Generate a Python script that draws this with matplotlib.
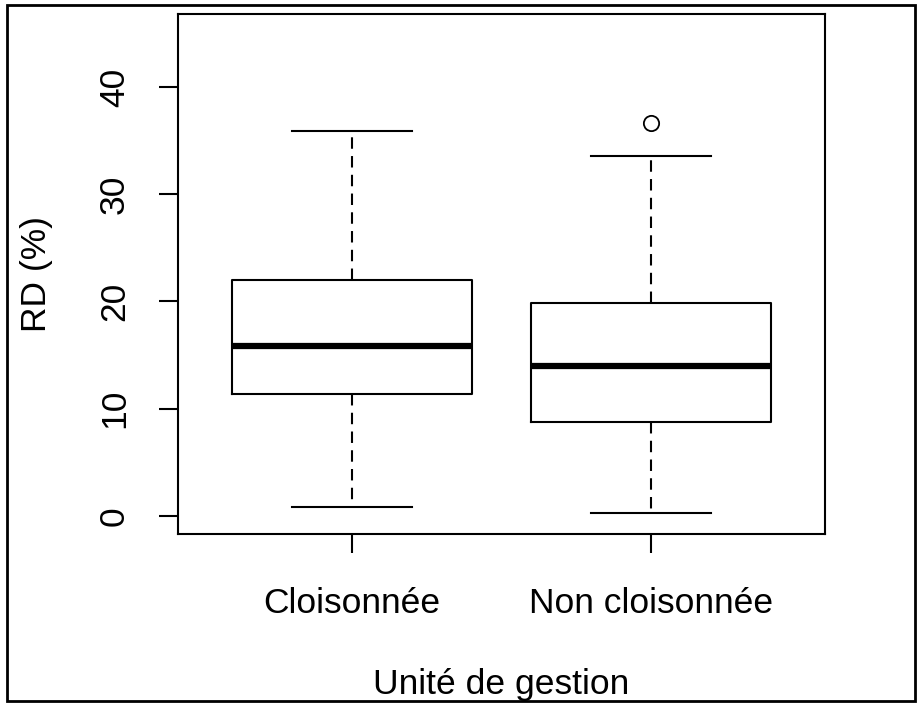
import matplotlib
matplotlib.use("Agg")
import matplotlib.pyplot as plt
from matplotlib.patches import Rectangle

plt.rcParams['font.family'] = ['Liberation Sans', 'DejaVu Sans']

# Summary statistics of RD (%) per management unit
categories = ["Cloisonnée", "Non cloisonnée"]
whisker_low = [0.8, 0.3]
q1 = [11.4, 8.7]
median = [15.8, 14.0]
q3 = [22.0, 19.8]
whisker_high = [35.9, 33.6]
outliers = [[], [36.6]]
y_ticks = [0, 10, 20, 30, 40]

stats = []
for i, name in enumerate(categories):
    stats.append(dict(label=name, whislo=whisker_low[i], q1=q1[i], med=median[i],
                      q3=q3[i], whishi=whisker_high[i], fliers=outliers[i]))

fig = plt.figure(figsize=(9.17, 7.05), dpi=100)
ax = fig.add_axes([178 / 917, 1 - 534 / 705, 647 / 917, 520 / 705])

lw = 1.5
ax.bxp(stats, positions=[1, 2], widths=0.8, showfliers=True,
       boxprops=dict(color='black', linewidth=lw),
       medianprops=dict(color='black', linewidth=4.5, solid_capstyle='butt'),
       whiskerprops=dict(color='black', linewidth=lw, linestyle=(0, (5.5, 3.5))),
       capprops=dict(color='black', linewidth=lw),
       capwidths=0.4,
       flierprops=dict(marker='o', markersize=11, markerfacecolor='none',
                       markeredgecolor='black', markeredgewidth=1.3))

ax.set_xlim(0.42, 2.58)
ax.set_ylim(-1.7, 46.8)
ax.set_yticks(y_ticks)
ax.set_yticklabels([str(t) for t in y_ticks], rotation=90, va='center')
ax.set_xticks([1, 2])
ax.set_xticklabels(categories)

for s in ax.spines.values():
    s.set_linewidth(lw)
ax.tick_params(axis='both', length=14, width=lw, labelsize=25.5, color='black')
ax.tick_params(axis='y', pad=20)
ax.tick_params(axis='x', pad=24)

ax.set_ylabel("RD (%)", fontsize=25.5, labelpad=32)
ax.set_xlabel("Unité de gestion", fontsize=25.5, labelpad=35)

# Frame around the whole figure
fig.patches.append(Rectangle((7 / 917, 1 - 701 / 705), 908 / 917, 696 / 705,
                             transform=fig.transFigure, fill=False,
                             edgecolor='black', linewidth=2))

fig.savefig("out.png", dpi=100)
